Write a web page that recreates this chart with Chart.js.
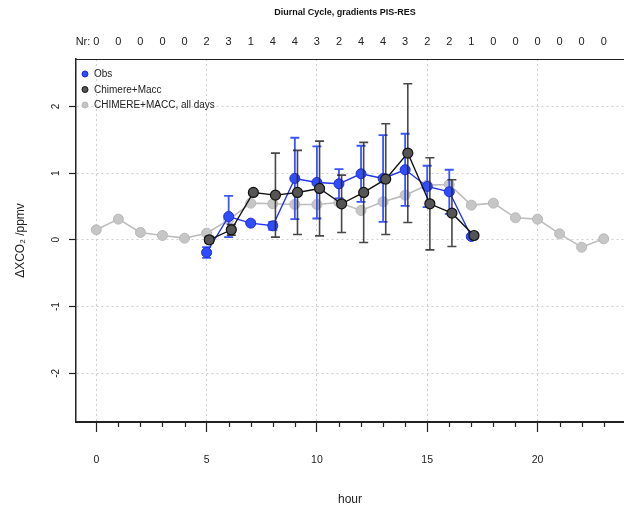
<!DOCTYPE html>
<html>
<head>
<meta charset="utf-8">
<script src="https://cdn.jsdelivr.net/npm/chart.js@4/dist/chart.umd.min.js"></script>
<style>
  html, body { margin: 0; padding: 0; background: #fff; overflow: hidden; }
</style>
</head>
<body>
<canvas id="diurnal" width="624" height="513"></canvas>
<script>
// hours of the day and number of days per hour (top row)
const hours = [0, 1, 2, 3, 4, 5, 6, 7, 8, 9, 10, 11, 12, 13, 14, 15, 16, 17, 18, 19, 20, 21, 22, 23];
const nrCounts = [0, 0, 0, 0, 0, 2, 3, 1, 4, 4, 3, 2, 4, 4, 3, 2, 2, 1, 0, 0, 0, 0, 0, 0];

// observations
const obsHours = [5, 6, 7, 8, 9, 10, 11, 12, 13, 14, 15, 16, 17];
const obsMean = [-0.19, 0.35, 0.25, 0.21, 0.92, 0.86, 0.84, 0.99, 0.92, 1.05, 0.80, 0.72, 0.05];
const obsErr = [0.08, 0.31, 0, 0.06, 0.61, 0.54, 0.22, 0.42, 0.65, 0.54, 0.31, 0.33, 0];

// model, same days
const modMean = [0.0, 0.15, 0.71, 0.67, 0.71, 0.77, 0.54, 0.71, 0.91, 1.30, 0.54, 0.40, 0.065];
const modErr = [0.05, 0.08, 0, 0.63, 0.63, 0.71, 0.43, 0.75, 0.83, 1.04, 0.69, 0.50, 0];

// model, all days
const allDaysMean = [0.15, 0.31, 0.11, 0.065, 0.025, 0.10, 0.30, 0.55, 0.54, 0.53, 0.53, 0.56,
                     0.44, 0.57, 0.67, 0.82, 0.83, 0.52, 0.55, 0.33, 0.31, 0.09, -0.11, 0.015];

const xTicks = hours;
const yTicks = [-2, -1, 0, 1, 2];
const modShift = 0.12; // model points drawn a little right of the obs

const FONT = "'Liberation Sans Narrow', 'Liberation Sans', Arial, sans-serif";

const errorBars = {
  id: "errorBars",
  beforeDatasetDraw(chart, args) {
    const ds = chart.data.datasets[args.index];
    if (!ds.errors) return;
    const { ctx, scales: { x, y } } = chart;
    ctx.save();
    ctx.strokeStyle = ds.errorColor;
    ctx.lineWidth = ds.errorWidth;
    ds.data.forEach((p, i) => {
      const e = ds.errors[i];
      if (!e) return;
      const px = x.getPixelForValue(p.x);
      const top = y.getPixelForValue(p.y + e);
      const bot = y.getPixelForValue(p.y - e);
      ctx.beginPath();
      ctx.moveTo(px, top); ctx.lineTo(px, bot);
      ctx.moveTo(px - 4.5, top); ctx.lineTo(px + 4.5, top);
      ctx.moveTo(px - 4.5, bot); ctx.lineTo(px + 4.5, bot);
      ctx.stroke();
    });
    ctx.restore();
  },
};

const decorations = {
  id: "decorations",
  afterDraw(chart) {
    const { ctx, chartArea: area, scales: { x, y } } = chart;
    ctx.save();

    // top border of the box
    ctx.strokeStyle = "#222";
    ctx.lineWidth = 1;
    ctx.beginPath();
    ctx.moveTo(area.left, area.top + 0.5);
    ctx.lineTo(area.right, area.top + 0.5);
    ctx.stroke();

    // minor ticks on the hour axis
    ctx.lineWidth = 1.2;
    xTicks.forEach((h) => {
      if (h % 5 === 0) return;
      const px = Math.round(x.getPixelForValue(h)) + 0.5;
      ctx.beginPath();
      ctx.moveTo(px, area.bottom);
      ctx.lineTo(px, area.bottom + 5);
      ctx.stroke();
    });

    // title
    ctx.fillStyle = "#111";
    ctx.textAlign = "center";
    ctx.textBaseline = "middle";
    ctx.font = "bold 9px " + FONT;
    ctx.fillText("Diurnal Cycle, gradients PIS-RES", 345, 13);

    // counts per hour
    ctx.font = "11px " + FONT;
    ctx.fillStyle = "#222";
    hours.forEach((h, i) => {
      ctx.fillText(String(nrCounts[i]), x.getPixelForValue(h), 42);
    });
    ctx.textAlign = "right";
    ctx.fillText("Nr:", x.getPixelForValue(0) - 6, 42);

    // rotated y tick labels
    ctx.font = "10px " + FONT;
    ctx.textAlign = "center";
    yTicks.forEach((v) => {
      ctx.save();
      ctx.translate(56, y.getPixelForValue(v));
      ctx.rotate(-Math.PI / 2);
      ctx.fillText(String(v), 0, 0);
      ctx.restore();
    });

    // legend
    ctx.font = "10px " + FONT;
    ctx.textAlign = "left";
    const items = [
      ["Obs", "#2f4dff", "#1b2bd8"],
      ["Chimere+Macc", "#555", "#111"],
      ["CHIMERE+MACC, all days", "#c4c4c4", "#b5b5b5"],
    ];
    items.forEach(([label, fill, stroke], i) => {
      const ly = 74 + i * 15.5;
      ctx.beginPath();
      ctx.arc(85, ly, 3, 0, Math.PI * 2);
      ctx.fillStyle = fill;
      ctx.fill();
      ctx.strokeStyle = stroke;
      ctx.lineWidth = 1;
      ctx.stroke();
      ctx.fillStyle = "#222";
      ctx.fillText(label, 94, ly + 0.5);
    });

    ctx.restore();
  },
};

new Chart(document.getElementById("diurnal"), {
  type: "line",
  data: {
    datasets: [
      {
        label: "Chimere+Macc",
        data: obsHours.map((h, i) => ({ x: h + modShift, y: modMean[i] })),
        errors: modErr,
        errorColor: "rgba(40, 40, 40, 0.85)",
        errorWidth: 1.6,
        borderColor: "#111",
        borderWidth: 1.4,
        pointBackgroundColor: "#555",
        pointBorderColor: "#111",
        pointBorderWidth: 1.2,
        pointRadius: 5,
        order: 1,
      },
      {
        label: "Obs",
        data: obsHours.map((h, i) => ({ x: h, y: obsMean[i] })),
        errors: obsErr,
        errorColor: "#3a55ff",
        errorWidth: 1.8,
        borderColor: "#2233ee",
        borderWidth: 1.4,
        pointBackgroundColor: "#2f4dff",
        pointBorderColor: "#1b2bd8",
        pointBorderWidth: 1,
        pointRadius: 5,
        order: 2,
      },
      {
        label: "CHIMERE+MACC, all days",
        data: hours.map((h, i) => ({ x: h, y: allDaysMean[i] })),
        borderColor: "#bdbdbd",
        borderWidth: 1.6,
        pointBackgroundColor: "#c6c6c6",
        pointBorderColor: "#b8b8b8",
        pointBorderWidth: 1,
        pointRadius: 5,
        order: 3,
      },
    ],
  },
  options: {
    responsive: false,
    animation: false,
    layout: { autoPadding: false, padding: { top: 59, left: 0, right: 0, bottom: 0 } },
    plugins: {
      legend: { display: false },
      tooltip: { enabled: false },
      title: { display: false },
    },
    scales: {
      x: {
        type: "linear",
        min: -0.92,
        max: 23.92,
        afterBuildTicks: (s) => { s.ticks = xTicks.map((v) => ({ value: v })); },
        afterFit: (s) => {
          s.height = 91;
          s.paddingLeft = 0;
          s.paddingRight = 0;
        },
        ticks: {
          autoSkip: false,
          maxRotation: 0,
          padding: 22,
          color: "#222",
          font: { family: FONT, size: 10.5 },
          callback: (v) => (v % 5 === 0 ? String(v) : ""),
        },
        grid: {
          color: (c) => (c.tick && c.tick.value % 5 === 0 ? "#cfcfcf" : "rgba(0,0,0,0)"),
          tickColor: (c) => (c.tick && c.tick.value % 5 === 0 ? "#222" : "rgba(0,0,0,0)"),
          tickLength: 10,
          tickWidth: 1.2,
          lineWidth: 1,
        },
        border: { color: "#222", width: 2, dash: [2, 3] },
        title: {
          display: true,
          text: "hour",
          color: "#222",
          font: { family: FONT, size: 12 },
          padding: { top: 0, bottom: 6 },
        },
      },
      y: {
        min: -2.73,
        max: 2.71,
        afterBuildTicks: (s) => { s.ticks = yTicks.map((v) => ({ value: v })); },
        afterFit: (s) => {
          s.width = 76;
          s.paddingTop = 0;
          s.paddingBottom = 0;
        },
        ticks: { display: false },
        grid: {
          color: "#cfcfcf",
          tickColor: "#222",
          tickLength: 7,
          tickWidth: 1.2,
          lineWidth: 1,
        },
        border: { color: "#222", width: 1.5, dash: [2, 3] },
        title: {
          display: true,
          text: "ΔXCO₂ /ppmv",
          color: "#222",
          font: { family: FONT, size: 12 },
          padding: { top: 13, bottom: 0 },
        },
      },
    },
  },
  plugins: [errorBars, decorations],
});
</script>
</body>
</html>
